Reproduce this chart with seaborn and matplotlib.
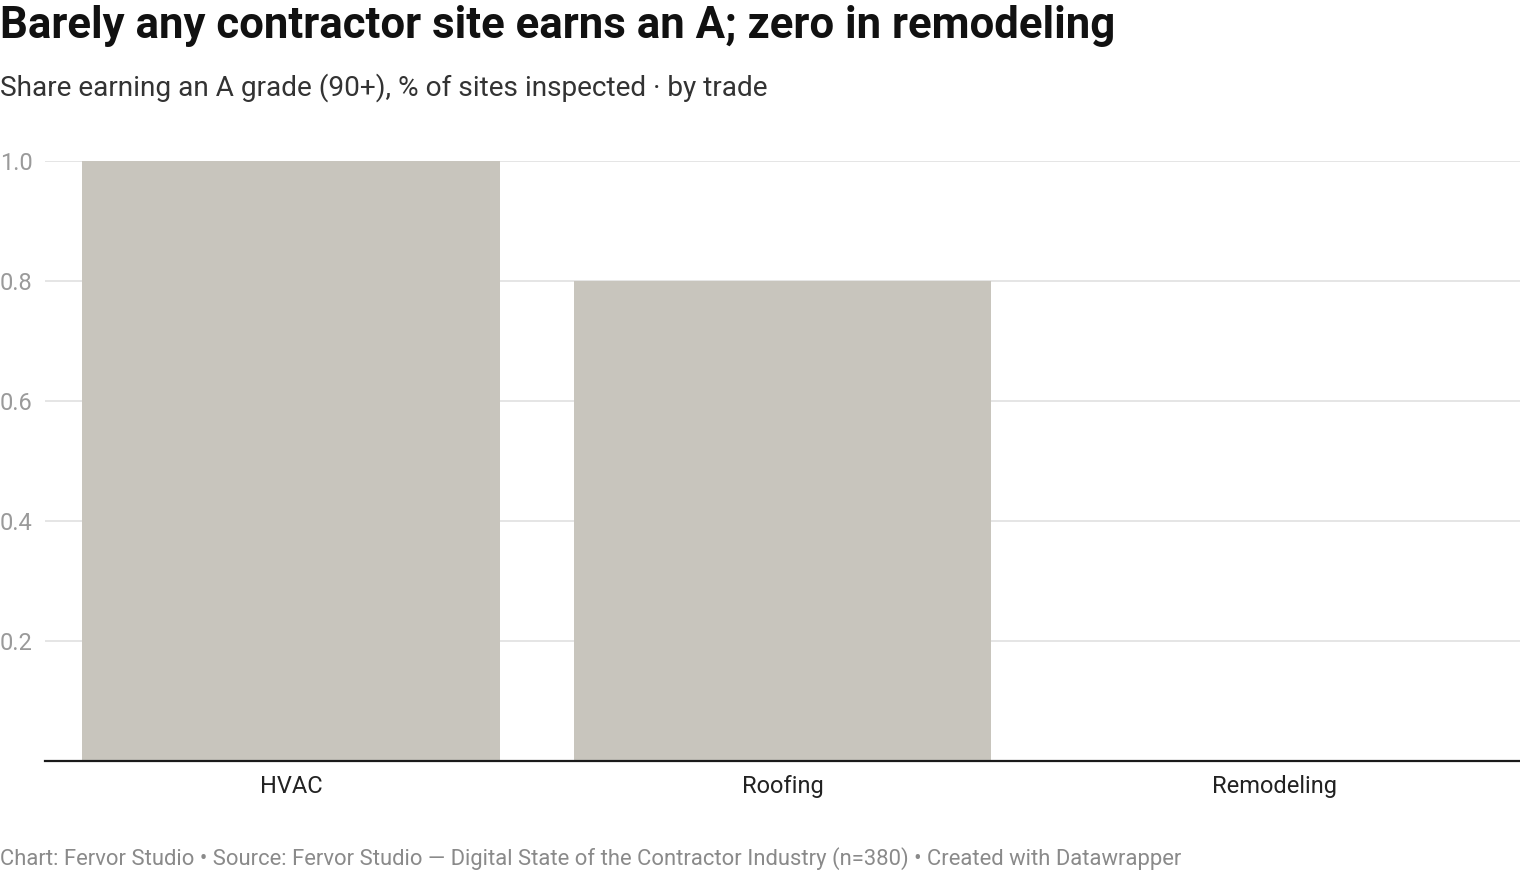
import matplotlib
matplotlib.use("Agg")
import matplotlib.pyplot as plt
import pandas as pd
import seaborn as sns

# data
trades = ["HVAC", "Roofing", "Remodeling"]
share_a = [1.0, 0.8, 0.0]
y_ticks = [0.2, 0.4, 0.6, 0.8, 1.0]
y_labels = ["0.2", "0.4", "0.6", "0.8", "1.0"]

title = "Barely any contractor site earns an A; zero in remodeling"
subtitle = "Share earning an A grade (90+), % of sites inspected · by trade"
footer = ("Chart: Fervor Studio • Source: Fervor Studio — Digital State of the "
          "Contractor Industry (n=380) • Created with Datawrapper")

sns.set_theme(style="white")
plt.rcParams["font.family"] = ["Roboto", "DejaVu Sans"]

df = pd.DataFrame({"trade": trades, "share": share_a})

W, H = 1520, 872
fig = plt.figure(figsize=(W / 100, H / 100), dpi=100)
ax = fig.add_axes([45 / W, 1 - 761 / H, (1520 - 45) / W, 600 / H])

sns.barplot(data=df, x="trade", y="share", color="#c8c5bd", saturation=1,
            width=0.85, linewidth=0, ax=ax, zorder=2)

ax.set_xlim(-0.5, len(trades) - 0.5)
ax.set_ylim(0, 1.0)
ax.set_yticks(y_ticks)
ax.set_yticklabels(y_labels)
ax.yaxis.grid(True, color="#e3e3e3", linewidth=1.3, zorder=0)
ax.set_axisbelow(True)
for side in ["top", "right", "left"]:
    ax.spines[side].set_visible(False)
ax.spines["bottom"].set_color("#1a1a1a")
ax.spines["bottom"].set_linewidth(1.6)
ax.spines["bottom"].set_zorder(3)
ax.set_xlabel("")
ax.set_ylabel("")
ax.tick_params(axis="y", length=0, pad=0, labelsize=17, labelcolor="#9a9a9a")
ax.tick_params(axis="x", length=0, pad=10, labelsize=17, labelcolor="#222222")
for lab in ax.get_yticklabels():
    lab.set_horizontalalignment("left")
    lab.set_x(-45 / (W - 45))
    lab.set_transform(ax.get_yaxis_transform())

fig.text(0, 1 - 26 / H, title, fontsize=31.5, fontweight="bold", color="#111111",
         va="center", ha="left")
fig.text(0, 1 - 88 / H, subtitle, fontsize=20.2, color="#333333",
         va="center", ha="left")
fig.text(0, 1 - 859 / H, footer, fontsize=15.8, color="#8a8a8a",
         va="center", ha="left")

fig.savefig("out.png", dpi=100)
